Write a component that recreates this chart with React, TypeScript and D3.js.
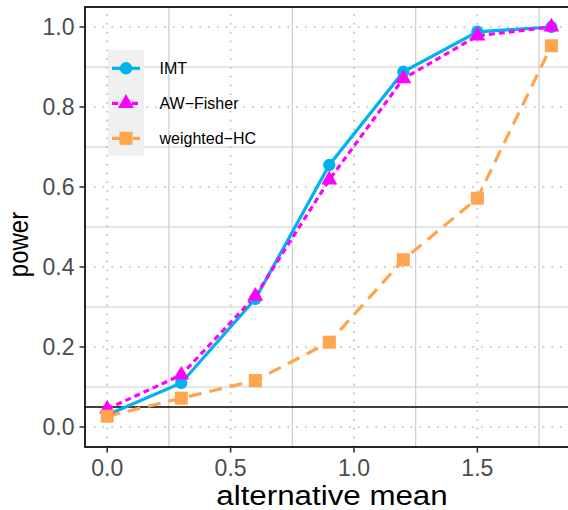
import React from "react";
import * as d3 from "d3";

const xValues = [0, 0.3, 0.6, 0.9, 1.2, 1.5, 1.8];
const imtPower = [0.03, 0.11, 0.32, 0.655, 0.888, 0.988, 1.0];
const awFisherPower = [0.045, 0.13, 0.327, 0.618, 0.871, 0.978, 1.0];
const weightedHCPower = [0.027, 0.072, 0.116, 0.212, 0.418, 0.572, 0.953];
const xTicks = [0, 0.5, 1.0, 1.5];
const xMinorTicks = [0.25, 0.75, 1.25, 1.75];
const yTicks = [0, 0.2, 0.4, 0.6, 0.8, 1.0];
const yMinorTicks = [0.1, 0.3, 0.5, 0.7, 0.9];
const seriesNames = ["IMT", "AW−Fisher", "weighted−HC"];
const refLine = 0.05;

const W = 568;
const H = 510;
const left = 85;
const top = 7;
const bottom = 447;
const right = 573.6;

const series = [
  { name: seriesNames[0], values: imtPower, color: "#00B2EE", dash: null, shape: d3.symbolCircle, size: 120 },
  { name: seriesNames[1], values: awFisherPower, color: "#FF00FF", dash: "6,4", shape: d3.symbolTriangle, size: 110 },
  { name: seriesNames[2], values: weightedHCPower, color: "#FFA54F", dash: "13,8", shape: d3.symbolSquare, size: 170 },
];

export default function App() {
  const x = d3.scaleLinear().domain([-0.09, 1.89]).range([left, right]);
  const y = d3.scaleLinear().domain([-0.05, 1.05]).range([bottom, top]);
  const line = d3
    .line<[number, number]>()
    .x((d) => x(d[0]))
    .y((d) => y(d[1]));
  const fmt = d3.format(".1f");
  const font = "'Liberation Sans', Arial, Helvetica, sans-serif";

  const legendY = [68.3, 103.3, 138.3];

  return (
    <svg
      width={W}
      height={H}
      style={{ position: "absolute", left: 0, top: 0, background: "#fff" }}
      fontFamily={font}
    >
      <defs>
        <clipPath id="panel">
          <rect x={left} y={top} width={right - left} height={bottom - top} />
        </clipPath>
      </defs>
      <rect x={0} y={0} width={W} height={H} fill="#fff" />
      {/* minor grid */}
      {xMinorTicks.map((t) => (
        <line key={"xm" + t} x1={x(t)} x2={x(t)} y1={top} y2={bottom} stroke="#cccccc" strokeWidth={1.2} />
      ))}
      {yMinorTicks.map((t) => (
        <line key={"ym" + t} x1={left} x2={right} y1={y(t)} y2={y(t)} stroke="#cccccc" strokeWidth={1.2} />
      ))}
      {/* major grid dotted */}
      {xTicks.map((t) => (
        <line key={"xg" + t} x1={x(t)} x2={x(t)} y1={bottom} y2={top} stroke="#b8b8b8" strokeWidth={1.6} strokeDasharray="1.6,7.2" />
      ))}
      {yTicks.map((t) => (
        <line key={"yg" + t} x1={left} x2={right} y1={y(t)} y2={y(t)} stroke="#b8b8b8" strokeWidth={1.6} strokeDasharray="1.6,7.2" />
      ))}
      {/* reference line */}
      <line x1={left} x2={right} y1={y(refLine)} y2={y(refLine)} stroke="#000" strokeWidth={1.7} />
      <g clipPath="url(#panel)">
        {series.map((s) => (
          <path
            key={"l" + s.name}
            d={line(xValues.map((v, i) => [v, s.values[i]]) as [number, number][]) || ""}
            fill="none"
            stroke={s.color}
            strokeWidth={3.2}
            strokeDasharray={s.dash || undefined}
          />
        ))}
        {series.map((s) =>
          xValues.map((v, i) => (
            <path
              key={"p" + s.name + i}
              d={d3.symbol().type(s.shape).size(s.size)() || ""}
              transform={`translate(${x(v)},${y(s.values[i])})`}
              fill={s.color}
            />
          ))
        )}
      </g>
      {/* panel border */}
      <rect x={left} y={top} width={right - left} height={bottom - top} fill="none" stroke="#000" strokeWidth={1.7} />
      {/* y axis ticks */}
      {yTicks.map((t) => (
        <g key={"yt" + t}>
          <line x1={left - 5.5} x2={left} y1={y(t)} y2={y(t)} stroke="#333" strokeWidth={1.6} />
          <text x={74.5} y={y(t)} dy="0.36em" textAnchor="end" fontSize={23} fill="#4d4d4d">
            {fmt(t)}
          </text>
        </g>
      ))}
      {/* x axis ticks */}
      {xTicks.map((t) => (
        <g key={"xt" + t}>
          <line x1={x(t)} x2={x(t)} y1={bottom} y2={bottom + 5.5} stroke="#333" strokeWidth={1.6} />
          <text x={x(t)} y={475.5} textAnchor="middle" fontSize={23} fill="#4d4d4d">
            {fmt(t)}
          </text>
        </g>
      ))}
      {/* axis titles */}
      <text
        transform="translate(332,504.5) scale(1.16,1)"
        textAnchor="middle"
        fontSize={27}
        fill="#000"
      >
        alternative mean
      </text>
      <text
        transform="translate(28,244.5) rotate(-90) scale(1,1.18)"
        textAnchor="middle"
        fontSize={24}
        fill="#000"
      >
        power
      </text>
      {/* legend */}
      <rect x={108} y={50} width={36} height={105.7} fill="#f0f0f0" />
      {series.map((s, i) => (
        <g key={"lg" + s.name}>
          <line
            x1={112}
            x2={140}
            y1={legendY[i]}
            y2={legendY[i]}
            stroke={s.color}
            strokeWidth={3.2}
            strokeDasharray={s.dash || undefined}
          />
          <path
            d={d3.symbol().type(s.shape).size(s.size)() || ""}
            transform={`translate(126,${legendY[i]})`}
            fill={s.color}
          />
          <text x={159.5} y={legendY[i]} dy="0.36em" fontSize={16} fill="#000">
            {s.name}
          </text>
        </g>
      ))}
    </svg>
  );
}
